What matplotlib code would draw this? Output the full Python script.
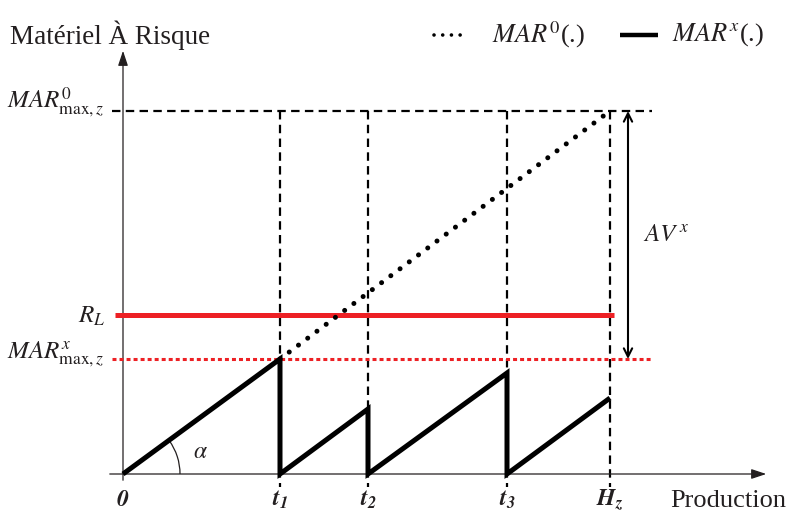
import matplotlib
matplotlib.use("Agg")
import matplotlib.pyplot as plt
from matplotlib.patches import Arc

plt.rcParams['font.family'] = ['Liberation Serif', 'DejaVu Serif']
plt.rcParams['mathtext.fontset'] = 'stix'

# Schematic values (production on x, material at risk on y)
t_labels = [r'$\mathbfit{0}$', r'$\mathbfit{t}_{\mathbfit{1}}$', r'$\mathbfit{t}_{\mathbfit{2}}$',
            r'$\mathbfit{t}_{\mathbfit{3}}$', r'$\mathbfit{H}_{\mathbfit{z}}$']
t_values = [0, 157, 245, 384, 487]
peak_values = [115, 65, 101, 76]      # MAR^x just before each reset (t1, t2, t3, Hz)
r_l = 159
mar0_max = 363
mar_x_max = 115

INK = '#231f20'
RED = '#ed2024'

fig = plt.figure(figsize=(7.91, 5.12), dpi=100)
ax = fig.add_axes([0, 0, 1, 1])
ax.set_xlim(-123, 668)
ax.set_ylim(-38, 474)
ax.axis('off')

# axes with arrows
ax.annotate('', xy=(646, 0), xytext=(-16, 0),
            arrowprops=dict(arrowstyle='-|>,head_length=0.9,head_width=0.3', lw=0.9, color=INK))
ax.annotate('', xy=(0, 426), xytext=(0, -9),
            arrowprops=dict(arrowstyle='-|>,head_length=0.9,head_width=0.3', lw=0.9, color=INK))

dash = (0, (3.8, 2.4))
# horizontal dashed at MAR0 max and verticals at t1..Hz
ax.plot([-11, 529], [mar0_max, mar0_max], color='black', lw=1.6, ls=dash, zorder=2)
for tv in t_values[1:]:
    ax.plot([tv, tv], [mar0_max, -13], color='black', lw=1.6, ls=dash, zorder=2)

# R_L and MAR^x max
ax.plot([-8, 491], [r_l, r_l], color=RED, lw=3.6, solid_capstyle='butt', zorder=3)
ax.plot([-11, 529], [mar_x_max, mar_x_max], color=RED, lw=2.2, ls=(0, (1.3, 1.0)), zorder=3)

# MAR^0 dotted continuation
ax.plot([t_values[1], t_values[4]], [peak_values[0], mar0_max], color='black', lw=3.6,
        ls=(0, (0.01, 2.3)), dash_capstyle='round', zorder=4)

# MAR^x sawtooth
xs, ys = [0], [0]
for i, tv in enumerate(t_values[1:]):
    xs.append(tv)
    ys.append(peak_values[i])
    if i < len(peak_values) - 1:
        xs.append(tv)
        ys.append(0)
ax.plot(xs, ys, color='black', lw=3.6, solid_joinstyle='miter', solid_capstyle='butt', zorder=5)

# angle alpha
ax.add_patch(Arc((0, 0), 114, 114, theta1=0, theta2=36, color=INK, lw=0.9))
ax.text(77, 22, r'$\alpha$', fontsize=17, color=INK, ha='center', va='center')

# AV^x double arrow
ax.annotate('', xy=(505, mar0_max), xytext=(505, mar_x_max),
            arrowprops=dict(arrowstyle='<->,head_length=0.6,head_width=0.3', lw=1.5, color='black',
                            shrinkA=0, shrinkB=0))
ax.text(520, 239, r'$AV^{\,x}$', fontsize=18, color=INK, ha='left', va='center')

# left labels
ax.text(-18, 366, r'$MAR^{0}_{\mathrm{max},z}$', fontsize=18, color=INK, ha='right', va='baseline')
ax.text(-18, 151, r'$R_L$', fontsize=18, color=INK, ha='right', va='baseline')
ax.text(-18, 116, r'$MAR^{x}_{\mathrm{max},z}$', fontsize=18, color=INK, ha='right', va='baseline')

# bottom labels
for tv, lab in zip(t_values, t_labels):
    ax.text(tv, -26, lab, fontsize=17, color=INK, ha='center', va='center')
ax.text(547, -27, 'Production', fontsize=19, color=INK, ha='left', va='center')

# title and legend
ax.text(-113, 439, 'Matériel À Risque', fontsize=19.5, color=INK, ha='left', va='center')
ax.plot([311, 340], [439, 439], color='black', lw=2.6, ls=(0, (0.01, 2.4)), dash_capstyle='round')
ax.text(369, 439, r'$MAR^{0}$(.)', fontsize=19, color=INK, ha='left', va='center')
ax.plot([497, 535], [439, 439], color='black', lw=3.2, solid_capstyle='butt')
ax.text(549, 439, r'$MAR^{x}$(.)', fontsize=19, color=INK, ha='left', va='center')

fig.savefig('out.png', dpi=100)
